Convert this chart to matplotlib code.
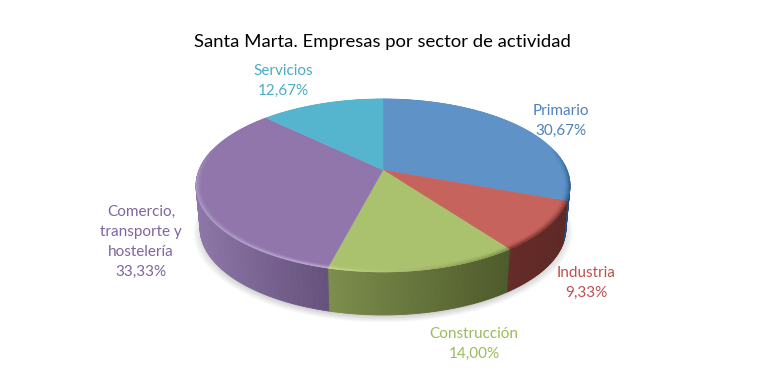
import numpy as np
import matplotlib
matplotlib.use("Agg")
import matplotlib.pyplot as plt
from matplotlib.colors import to_rgb

plt.rcParams['font.family'] = ['Lato', 'DejaVu Sans']

title = "Santa Marta. Empresas por sector de actividad"
sectores = ["Primario", "Industria", "Construcción", "Comercio,\ntransporte y\nhostelería", "Servicios"]
valores = [30.67, 9.33, 14.00, 33.33, 12.67]
etiquetas = ["30,67%", "9,33%", "14,00%", "33,33%", "12,67%"]

colores_cara = ["#5f92c7", "#c7635d", "#aac26d", "#9176ab", "#56b5ce"]
colores_texto = ["#4f81bd", "#c0504d", "#9bbb59", "#8064a2", "#4bacc6"]
# lateral: claro a la izquierda, oscuro a la derecha
lado_claro = ["#2f5f92", "#652c29", "#7d8e4d", "#8d77a8", "#3d8a9e"]
lado_oscuro = ["#264c78", "#5e2926", "#4e5a2b", "#66527c", "#3d8a9e"]
# bisel: color al principio y al final de cada sector (sentido horario)
borde_ini = ["#2f5f92", "#7a3431", "#7d8e4d", "#bcabd3", "#56b5ce"]
borde_fin = ["#2f5f92", "#7a3431", "#c9da8c", "#a08cbb", "#56b5ce"]
pos_texto = [(561, 121), (586, 283), (474, 344), (141, 242), (283, 81)]

# perspectiva del pastel
cx, cy = 383, 170
rx, ry, k = 184, 83.7, 0.179
alto, enc = 43, 0.978


def proyecta(ang, r=1.0, dy=0.0, esc=1.0):
    x = r * np.sin(ang)
    y = r * np.cos(ang)
    w = 1 + k * y
    return cx + esc * rx * x / w, cy - ry * y / w + dy


def mezcla(c1, c2, t):
    return tuple((1 - t) * a + t * b for a, b in zip(to_rgb(c1), to_rgb(c2)))


fig = plt.figure(figsize=(7.65, 3.82), dpi=100)
ax = fig.add_axes([0, 0, 1, 1])
ax.set_xlim(0, 765)
ax.set_ylim(382, 0)
ax.axis("off")

# sombra difusa
todo = np.linspace(0, 2 * np.pi, 240)
for r in np.linspace(1.035, 0.97, 10):
    sx, sy = proyecta(todo, r, alto + 3, enc)
    ax.fill(sx, sy, color="#000000", alpha=0.022, lw=0, zorder=1)

limites = np.radians(np.cumsum([0] + valores) * 3.6)

# lateral
for i in range(len(valores)):
    a = np.linspace(limites[i], limites[i + 1], 80)
    a = a[np.cos(a) < 0.25]
    if len(a) < 2:
        continue
    x1, y1 = proyecta(a)
    x2, y2 = proyecta(a, 1.0, alto, enc)
    xmin, xmax = x1.min(), x1.max()
    for j in range(len(a) - 1):
        t = (x1[j] - xmin) / (xmax - xmin)
        c = mezcla(lado_claro[i], lado_oscuro[i], t)
        ax.fill([x1[j], x1[j + 1], x2[j + 1], x2[j]],
                [y1[j], y1[j + 1], y2[j + 1], y2[j]],
                facecolor=c, edgecolor=c, lw=0.6, zorder=2)

# cara superior
for i in range(len(valores)):
    a = np.linspace(limites[i], limites[i + 1], 120)
    x, y = proyecta(a)
    ax.fill(np.r_[cx, x], np.r_[cy, y], facecolor=colores_cara[i],
            edgecolor=colores_cara[i], lw=0.3, zorder=3)
    # bisel del borde delantero
    peso = np.clip((0.3 - np.cos(a)) / 0.4, 0, 1)
    for r, t in zip(np.linspace(0.968, 0.998, 7), np.linspace(0.1, 1, 7)):
        xr, yr = proyecta(a, r)
        for j in range(0, len(a) - 1):
            c_borde = mezcla(borde_ini[i], borde_fin[i], j / (len(a) - 2))
            c = mezcla(colores_cara[i], c_borde, t * t * peso[j])
            ax.plot(xr[j:j + 2], yr[j:j + 2], color=c, lw=0.8,
                    solid_capstyle="butt", zorder=4)

ax.text(382, 42, title, ha="center", va="center", fontsize=13.3, color="#000000")
for i in range(len(valores)):
    ax.text(pos_texto[i][0], pos_texto[i][1], sectores[i] + "\n" + etiquetas[i],
            ha="center", va="center", fontsize=11, color=colores_texto[i],
            linespacing=1.55, zorder=6)

fig.savefig("out.png", dpi=100)
